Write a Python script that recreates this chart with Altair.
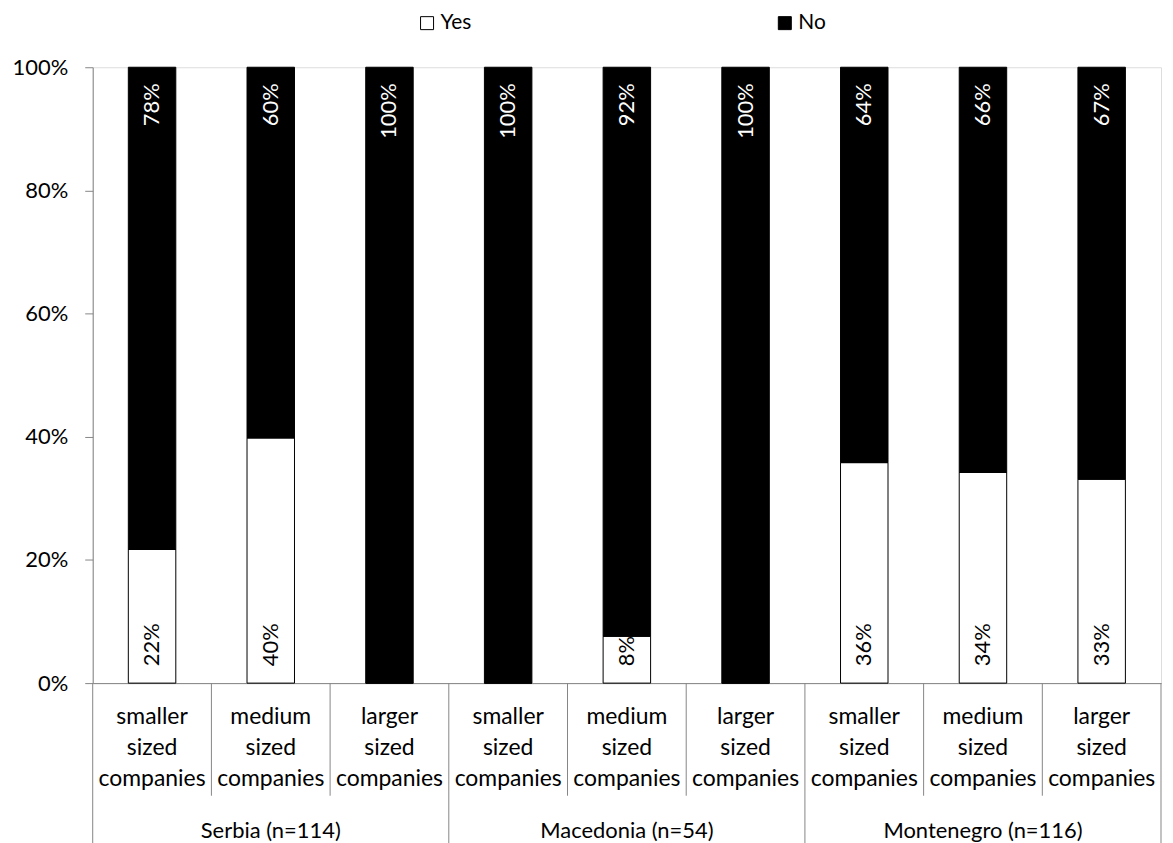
import altair as alt
import pandas as pd

countries = ["Serbia (n=114)", "Macedonia (n=54)", "Montenegro (n=116)"]
sizes = ["smaller\nsized\ncompanies", "medium\nsized\ncompanies", "larger\nsized\ncompanies"]
series = ["Yes", "No"]
yes_vals = [0.217, 0.398, 0.0, 0.0, 0.076, 0.0, 0.358, 0.342, 0.331]
no_vals = [0.783, 0.602, 1.0, 1.0, 0.924, 1.0, 0.642, 0.658, 0.669]

FONT = "Lato"
AXIS_GRAY = "#868686"
H = 618

rows = []
cats = []
for ci, c in enumerate(countries):
    for si, s in enumerate(sizes):
        idx = ci * 3 + si
        y = yes_vals[idx]
        n = no_vals[idx]
        cats.append({"idx": idx, "size": s, "country": c, "yes": y, "no": n})
        rows.append({"idx": idx, "series": "Yes", "v0": 0.0, "v1": y})
        rows.append({"idx": idx, "series": "No", "v0": y, "v1": y + n})

bars_df = pd.DataFrame(rows)
cat_df = pd.DataFrame(cats)
country_df = pd.DataFrame({"country": countries, "pos": [1, 4, 7]})
inner_df = pd.DataFrame({"pos": [0.5, 1.5, 3.5, 4.5, 6.5, 7.5]})
group_df = pd.DataFrame({"pos": [-0.5, 2.5, 5.5, 8.5]})

xscale = alt.Scale(domain=[-0.5, 8.5], nice=False, zero=False)
yscale = alt.Scale(domain=[0, 1], nice=False)

bars = alt.Chart(bars_df).transform_calculate(
    x0="datum.idx - 0.2", x1="datum.idx + 0.2"
).mark_bar(stroke="black", strokeWidth=1).encode(
    x=alt.X("x0:Q", scale=xscale,
            axis=alt.Axis(labels=False, ticks=False, title=None, grid=False,
                          domainColor=AXIS_GRAY, domainWidth=1)),
    x2="x1:Q",
    y=alt.Y("v0:Q", scale=yscale,
            axis=alt.Axis(values=[0, 0.2, 0.4, 0.6, 0.8, 1.0], format=".0%",
                          title=None, grid=False, domainColor=AXIS_GRAY,
                          tickColor=AXIS_GRAY, tickSize=8, labelPadding=17,
                          labelFont=FONT, labelFontSize=22, labelColor="black")),
    y2="v1:Q",
    color=alt.Color("series:N",
                    scale=alt.Scale(domain=series, range=["white", "black"]),
                    legend=alt.Legend(title=None, orient="none", direction="horizontal",
                                      legendX=325, legendY=-55, symbolType="square",
                                      symbolSize=170, symbolStrokeColor="black",
                                      symbolStrokeWidth=1, labelFont=FONT,
                                      labelFontSize=21, labelColor="black",
                                      labelOffset=3, columnPadding=304, padding=0)),
)

yes_labels = alt.Chart(cat_df).transform_filter("datum.yes > 0").mark_text(
    angle=270, align="left", baseline="middle", dx=17, font=FONT, fontSize=22, color="black"
).encode(
    x=alt.X("idx:Q", scale=xscale),
    y=alt.datum(0),
    text=alt.Text("yes:Q", format=".0%"),
)

no_labels = alt.Chart(cat_df).mark_text(
    angle=270, align="right", baseline="middle", dx=-16, font=FONT, fontSize=22, color="white"
).encode(
    x=alt.X("idx:Q", scale=xscale),
    y=alt.datum(1),
    text=alt.Text("no:Q", format=".0%"),
)

inner_rules = alt.Chart(inner_df).mark_rule(color=AXIS_GRAY, strokeWidth=1).encode(
    x=alt.X("pos:Q", scale=xscale),
    y=alt.value(H),
    y2=alt.value(H + 113),
)

group_rules = alt.Chart(group_df).mark_rule(color=AXIS_GRAY, strokeWidth=1).encode(
    x=alt.X("pos:Q", scale=xscale),
    y=alt.value(H),
    y2=alt.value(H + 170),
)

cat_labels = alt.Chart(cat_df).mark_text(
    align="center", baseline="middle", lineBreak="\n", lineHeight=31,
    font=FONT, fontSize=23, color="black"
).encode(
    x=alt.X("idx:Q", scale=xscale),
    y=alt.value(H + 34),
    text="size:N",
)

country_labels = alt.Chart(country_df).mark_text(
    align="center", baseline="middle", font=FONT, fontSize=22, color="black"
).encode(
    x=alt.X("pos:Q", scale=xscale),
    y=alt.value(H + 148),
    text="country:N",
)

chart = alt.layer(
    bars, yes_labels, no_labels, inner_rules, group_rules, cat_labels, country_labels
).properties(
    width=1072, height=H,
    autosize=alt.AutoSizeParams(type="none"),
    padding={"left": 85, "top": 58, "right": 4, "bottom": 159},
).configure_view(stroke=None).configure(font=FONT)

chart.save("out.html", embed_options={"renderer": "svg", "actions": False})
